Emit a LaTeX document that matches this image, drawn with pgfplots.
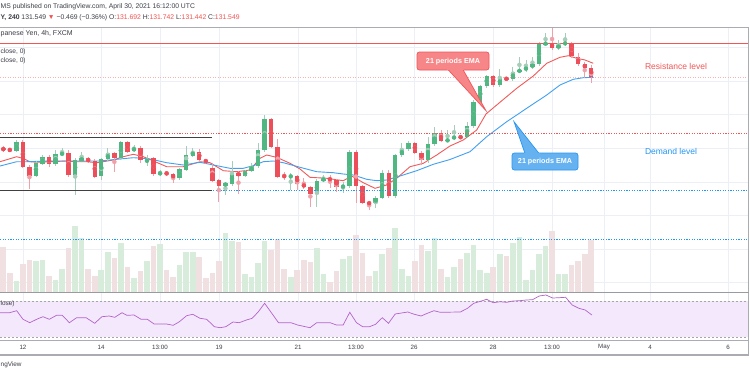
\documentclass[border=0pt]{standalone}
\usepackage{pgfplots}
\pgfplotsset{compat=1.18}
\usepackage{pgfplotstable}
\usepackage{fontspec}
\setmainfont{Liberation Sans}

\definecolor{cR}{RGB}{236,78,90}
\definecolor{cG}{RGB}{80,183,130}
\definecolor{wR}{RGB}{240,160,168}
\definecolor{wG}{RGB}{165,205,185}
\definecolor{vR}{RGB}{240,224,225}
\definecolor{vG}{RGB}{216,236,220}
\definecolor{emaR}{RGB}{242,90,90}
\definecolor{emaB}{RGB}{66,160,240}
\definecolor{gridc}{RGB}{236,240,246}
\definecolor{framec}{RGB}{170,172,178}
\definecolor{rsic}{RGB}{178,100,200}
\definecolor{rsiband}{RGB}{244,232,252}
\definecolor{lvlR}{RGB}{242,85,85}
\definecolor{lvlB}{RGB}{33,150,243}
\definecolor{priceR}{RGB}{239,83,80}
\definecolor{txt}{RGB}{60,62,70}
\definecolor{calR}{RGB}{247,134,136}
\definecolor{calRb}{RGB}{240,85,90}
\definecolor{calB}{RGB}{102,178,240}
\definecolor{calBb}{RGB}{40,150,240}

% columns: candle index, body top, body bottom, wick top, wick bottom, volume top (chart pixel units, y downward)
\pgfplotstableread{
i bt bb wt wb v
0 148.3 150 146 152 246.7
1 149.5 150.5 148 151.5 273.3
3 141.7 166.7 140 168 264
4 166.7 175.7 165 189.3 260
7 156.7 164.3 155 166.7 276
10 153.3 175 150 176.7 248.3
13 158.3 161.7 157 163 269.3
14 161 176.7 159 178 276
17 153.3 158.3 152 171.7 258.3
19 142.3 151.7 141 153.3 267.3
21 147.7 160 146 163.3 271
23 158.3 174 156.7 175.5 246
25 172.7 174 171 176 270
26 174 178.3 172.7 183.3 277.3
30 151.7 160 149.3 161.5 257.3
31 160 162.3 158.5 163.5 278.3
32 168.3 180.7 163.3 182 272.7
33 180 185.7 178.5 201.7 261
36 172.7 175.7 171 194.3 242
41 119.3 146.7 118 148 250
42 146.7 176.7 139.3 178 239
43 175.7 176.7 171.7 180 268.7
45 176 184 174.7 190 270
46 183.7 187.3 178.3 189 260
47 187.3 194.3 185.5 207.3 262.3
50 178.3 180 175 188.3 281.7
51 180 186.7 178.5 191.7 271
54 151.7 186 150.3 202.7 235
55 186 202.7 184.5 204 253.3
56 202.3 204 200.5 210 275.7
59 172.7 196 170 197.5 248.3
63 142.7 152.7 141.5 154 260.7
64 152.7 160 151 165 245
67 133.3 140.7 130 142 269.3
70 136.7 137.7 135 139 259
75 76 85 74.5 86.5 266.7
77 78.3 79.3 77 80.5 255.7
84 43.3 48.3 28 50 230.7
87 42.7 56 41.5 57.5 265
88 56.7 64.3 53.3 66 261
89 64.3 67.7 62 78.3 254
90 67.7 76.7 64.5 83.3 240
}\bear

\pgfplotstableread{
i bt bb wt wb v
2 141.7 150.7 140 152 281
5 163.3 175.7 161 177 260.7
6 156.7 164 155 165 260
8 154.3 164.3 150 166 280
9 153.3 154.3 148.3 156 269
11 160 175 158 195 225.7
12 158 160.7 151.7 162 238.3
15 159.3 176 157.5 180 270
16 153.3 159.3 148.3 161 252.3
18 142.3 158.3 141 160 242.7
20 147.7 151 145 152.3 278.3
22 160 161.5 155 166 260.7
24 172.7 174 170 176 244
27 169.3 178.3 168 179.5 265.3
28 155 170 145.7 171 252
29 151.7 155.7 148.3 157 252
34 183.3 185.7 181.7 195 232.7
35 172.7 184 161 185.5 241.3
37 170.7 175.7 169.5 177 274.3
38 165.7 171 163.3 172.3 276.7
39 150 166 143.3 167.5 263
40 119.3 150 115 151.5 241.3
44 176 176.7 173.3 190 276.7
48 180.7 194.3 179 206.7 248.3
49 178.3 180.7 175 182 274.3
52 185.7 187.3 181.7 193.3 259
53 151.7 186 150 187.5 255.7
57 197.7 203.3 196 208.3 271
58 172.7 197.7 170 199 254.3
60 155 196 153.5 197.5 228.3
61 149.3 155 143.3 156.5 269.3
62 142.7 149.3 141 151 275.7
65 144 160 136.7 163.3 250.7
66 133.3 144 126.7 145.5 238.3
68 140 140.7 130 142 276.7
69 136.7 138.3 125 139.5 266.7
71 126 136.7 121.7 138 253.3
72 101.7 126 100 127.5 244.7
73 86 101.7 84.5 103 270
74 76 86 74.5 87.5 273.3
76 78.3 85 69.3 86.5 254
78 71.7 79.3 66.7 80.5 243.3
79 70 71.7 56.7 73 236.7
80 67.3 70 60 71.5 280
81 64.3 67.3 56.7 68.5 270
82 43.3 64.3 42 66 254.3
83 43.3 44 33.3 45 245.7
85 45 48.3 40 50 274.3
86 42.7 44 33.3 45.5 274
}\bull

\begin{document}
\begin{tikzpicture}
\useasboundingbox (0,0) rectangle (750pt,375pt);
\clip (0,0) rectangle (750pt,375pt);
\begin{axis}[
  at={(0,0)}, anchor=south west,
  scale only axis, width=750pt, height=375pt,
  xmin=0, xmax=750, ymin=0, ymax=375, y dir=reverse,
  hide axis, clip=true,
]
\fill[white] (axis cs:0,0) rectangle (axis cs:750,375);
% grid
\foreach \gx in {23,101,160,219,298,356,414,493,552,604,650,728}{
  \edef\tmp{\noexpand\draw[gridc, line width=0.8pt] (axis cs:\gx,27) -- (axis cs:\gx,340);}\tmp
}
\foreach \gy in {47.6,81,114.6,148,182,215.5,249,282.5,311,328}{
  \edef\tmp{\noexpand\draw[gridc, line width=0.8pt] (axis cs:0,\gy) -- (axis cs:748,\gy);}\tmp
}
% RSI band
\fill[rsiband] (axis cs:0,301) rectangle (axis cs:748,337);
\draw[gray!70, line width=0.5pt, dash pattern=on 2pt off 2pt] (axis cs:0,301) -- (axis cs:748,301);
\draw[gray!70, line width=0.5pt, dash pattern=on 2pt off 2pt] (axis cs:0,337) -- (axis cs:748,337);

% volume
\addplot[vR, only marks, mark=none, error bars/.cd, y dir=both, y explicit, error mark=none,
  error bar style={line width=5.6pt}]
  table[x expr=3.3+6.533*\thisrow{i}, y expr=(\thisrow{v}+292)/2, y error expr=(292-\thisrow{v})/2] {\bear};
\addplot[vG, only marks, mark=none, error bars/.cd, y dir=both, y explicit, error mark=none,
  error bar style={line width=5.6pt}]
  table[x expr=3.3+6.533*\thisrow{i}, y expr=(\thisrow{v}+292)/2, y error expr=(292-\thisrow{v})/2] {\bull};

% price line (current)
\draw[lvlR!45, line width=0.6pt, dash pattern=on 1pt off 1.5pt] (axis cs:0,77) -- (axis cs:748,77);

% EMA lines
\addplot[emaR, line width=0.9pt] coordinates {
(0,161.7)(16.7,156.7)(22.7,158.3)(30,161.7)(36.7,162.3)(50,161.7)(66.7,161)(76.7,161.7)(86.7,161.7)(96.7,162.7)(103.3,161.7)(113.3,160)(123.3,156.7)(133.3,154.3)(143.3,156.7)(150,159.5)(166.7,166.7)(183.3,166.7)(200,161.7)(210,162.7)(223.3,170.7)(236.7,171.7)(250,170)(260,158.3)(266.7,155)(276.7,157.3)(290,163.3)(300,169)(310,177.3)(326.7,178.3)(343.3,180.7)(351.7,176)(363.3,182.7)(375,188.3)(386.7,185)(396.7,178.3)(410,166.7)(423.3,163.3)(436.7,155)(450,146)(463.3,140)(476.7,130)(486,114)(496.7,105)(516.7,88.3)(533.3,76)(546.7,63.3)(560,57.3)(568.3,55.7)(576.7,58.3)(585,60)(593.3,63.3)};
\addplot[emaB, line width=0.9pt] coordinates {
(0,166)(16.7,161.7)(26.7,161.7)(50,161)(73.3,161)(100,161)(116.7,159.3)(133.3,157.7)(143.3,158.3)(150,159)(166.7,162.7)(183.3,165)(200,162.3)(213.3,165)(230,168.3)(243.3,168.3)(253.3,165.7)(263.3,161.7)(273.3,161)(283.3,162.7)(300,167.3)(316.7,171.7)(333.3,172.7)(343.3,174)(353.3,175)(366.7,179.3)(376.7,180.7)(386.7,180)(400,176)(416.7,170.7)(433.3,164.3)(450,159.5)(470,151.7)(486.7,136.7)(506.7,121.7)(526.7,108.3)(546.7,95)(560,85)(573.3,79.3)(583.3,77.7)(593.3,77.3)};

% candles: wicks
\addplot[wR, only marks, mark=none, error bars/.cd, y dir=both, y explicit, error mark=none,
  error bar style={line width=0.8pt}]
  table[x expr=3.3+6.533*\thisrow{i}, y expr=(\thisrow{wt}+\thisrow{wb})/2, y error expr=(\thisrow{wb}-\thisrow{wt})/2] {\bear};
\addplot[wG, only marks, mark=none, error bars/.cd, y dir=both, y explicit, error mark=none,
  error bar style={line width=0.8pt}]
  table[x expr=3.3+6.533*\thisrow{i}, y expr=(\thisrow{wt}+\thisrow{wb})/2, y error expr=(\thisrow{wb}-\thisrow{wt})/2] {\bull};
% candles: bodies
\addplot[cR, only marks, mark=none, error bars/.cd, y dir=both, y explicit, error mark=none,
  error bar style={line width=4.4pt}]
  table[x expr=3.3+6.533*\thisrow{i}, y expr=(\thisrow{bt}+\thisrow{bb})/2, y error expr=(\thisrow{bb}-\thisrow{bt})/2] {\bear};
\addplot[cG, only marks, mark=none, error bars/.cd, y dir=both, y explicit, error mark=none,
  error bar style={line width=4.4pt}]
  table[x expr=3.3+6.533*\thisrow{i}, y expr=(\thisrow{bt}+\thisrow{bb})/2, y error expr=(\thisrow{bb}-\thisrow{bt})/2] {\bull};

% RSI
\addplot[rsic, line width=0.7pt] coordinates {
(0,312.7)(9.6,312.7)(16.7,310.7)(23,319.3)(29.7,322.7)(37.3,319)(43,316.7)(49.3,319.3)(56.5,315.3)(62.2,315.3)(69.4,322.7)(76.6,317.7)(86.1,317.7)(94.7,323.3)(101.9,316.7)(109.1,316)(114.8,317.3)(122,312.7)(126.8,315.3)(134,315)(141.1,319.3)(147.4,319.3)(154.1,324)(166.5,324)(173.2,325.3)(179.4,321.7)(186.6,315.7)(192.8,314.3)(200,318.3)(206.7,319.3)(214.4,326.7)(220.1,327.7)(225.8,326.7)(233,322)(239.2,322.7)(246.4,320)(252.2,318.3)(258.4,311.7)(264.6,303.3)(271.8,313.3)(278.5,322.7)(290.9,322.7)(297.6,325)(310,327.7)(316.7,322.7)(330.1,322.7)(336.4,325)(343.1,325)(349.8,312.3)(356.5,322.7)(362.7,326.7)(369.4,326.7)(375.6,324.3)(382.3,317.7)(388.5,323.3)(395.2,314)(407.7,312)(414.4,314.3)(421.1,316)(427.3,313.3)(434,310.7)(440.2,312.3)(460.3,312)(467.5,308.3)(473.7,303.3)(480.4,301.3)(486.6,299.3)(493.3,302.7)(500,301.7)(506.7,302.3)(512.9,301)(519.6,300.7)(526.3,300)(532.5,299.7)(539.2,296)(545.9,295)(552.6,298)(558.9,297.7)(565.6,297.3)(572.2,305)(578.9,308.3)(585.2,310)(591.9,315)};

% drawings
\draw[lvlR, line width=0.9pt] (axis cs:0,43) -- (axis cs:748,43);
\draw[lvlR, line width=1pt, dash pattern=on 1.2pt off 1.4pt] (axis cs:0,133) -- (axis cs:748,133);
\draw[lvlB, line width=1pt, dash pattern=on 1.2pt off 1.4pt] (axis cs:213,190.3) -- (axis cs:748,190.3);
\draw[lvlB, line width=1pt, dash pattern=on 1.2pt off 1.4pt] (axis cs:0,239) -- (axis cs:748,239);
\draw[black!75, line width=1.4pt] (axis cs:0,137.7) -- (axis cs:212,137.7);
\draw[black!75, line width=1.4pt] (axis cs:0,190.3) -- (axis cs:212,190.3);

% callouts
\filldraw[fill=calR, draw=calRb, line width=0.7pt, rounded corners=2.5pt] (axis cs:417,52) rectangle (axis cs:489,70);
\filldraw[fill=calR, draw=calRb, line width=0.7pt] (axis cs:448,69.6) -- (axis cs:486,110.7) -- (axis cs:463,69.6);
\fill[calR] (axis cs:447,68) rectangle (axis cs:464,70.4);
\node[white, font=\fontsize{7.2}{8}\selectfont\bfseries, inner sep=0] at (axis cs:453,61.5) {21 periods EMA};

\filldraw[fill=calB, draw=calBb, line width=0.7pt, rounded corners=2.5pt] (axis cs:512,153) rectangle (axis cs:578,170);
\filldraw[fill=calB, draw=calBb, line width=0.7pt] (axis cs:525,153.4) -- (axis cs:514,121.7) -- (axis cs:539,153.4);
\fill[calB] (axis cs:524,152.6) rectangle (axis cs:540,155);
\node[white, font=\fontsize{7.2}{8}\selectfont\bfseries, inner sep=0] at (axis cs:545,161.5) {21 periods EMA};

\node[lvlR, font=\fontsize{8.5}{9}\selectfont, inner sep=0] at (axis cs:676,66) {Resistance level};
\node[lvlB, font=\fontsize{8.5}{9}\selectfont, inner sep=0] at (axis cs:671,151) {Demand level};

% frame
\draw[framec, line width=0.9pt] (axis cs:0,27) -- (axis cs:748.5,27);
\draw[framec, line width=0.9pt] (axis cs:748.5,27) -- (axis cs:748.5,355);
\draw[framec!90!black, line width=1.4pt] (axis cs:0,292.5) -- (axis cs:748.5,292.5);
\draw[framec, line width=1pt] (axis cs:0,340.5) -- (axis cs:748.5,340.5);
\draw[framec, line width=1.2pt] (axis cs:0,355) -- (axis cs:748.5,355);

% texts
\node[anchor=west, txt, font=\fontsize{6.8}{7}\selectfont, inner sep=0] at (axis cs:0.5,6.5) {MS published on TradingView.com, April 30, 2021 16:12:00 UTC};
\node[anchor=west, txt, font=\fontsize{6.8}{7}\selectfont, inner sep=0] at (axis cs:0.5,18) {\textbf{Y, 240} 131.549 \textcolor{priceR}{▼} −0.469 (−0.36\%) O:\textcolor{priceR}{131.692} H:\textcolor{priceR}{131.742} L:\textcolor{priceR}{131.442} C:\textcolor{priceR}{131.549}};
\node[anchor=west, txt, font=\fontsize{7}{8}\selectfont, inner sep=0] at (axis cs:0.5,33.5) {panese Yen, 4h, FXCM};
\node[anchor=west, txt, font=\fontsize{6.6}{7}\selectfont, inner sep=0] at (axis cs:0.5,51.5) {close, 0)};
\node[anchor=west, txt, font=\fontsize{6.6}{7}\selectfont, inner sep=0] at (axis cs:0.5,60.5) {close, 0)};
\node[anchor=west, txt, font=\fontsize{6.4}{7}\selectfont, inner sep=0] at (axis cs:0.5,303.5) {lose)};
\node[anchor=west, txt, font=\fontsize{6.4}{7}\selectfont, inner sep=0] at (axis cs:0.5,365) {ngView};
\foreach \px/\lab in {23/12,101/14,160/13:00,219/19,298/21,356/13:00,414/26,493/28,552/13:00,604/May,650/4,728/6}{
  \edef\tmp{\noexpand\node[txt, font=\noexpand\fontsize{6.2}{7}\noexpand\selectfont, inner sep=0] at (axis cs:\px,347.5) {\lab};}\tmp
}
\end{axis}
\end{tikzpicture}
\end{document}
